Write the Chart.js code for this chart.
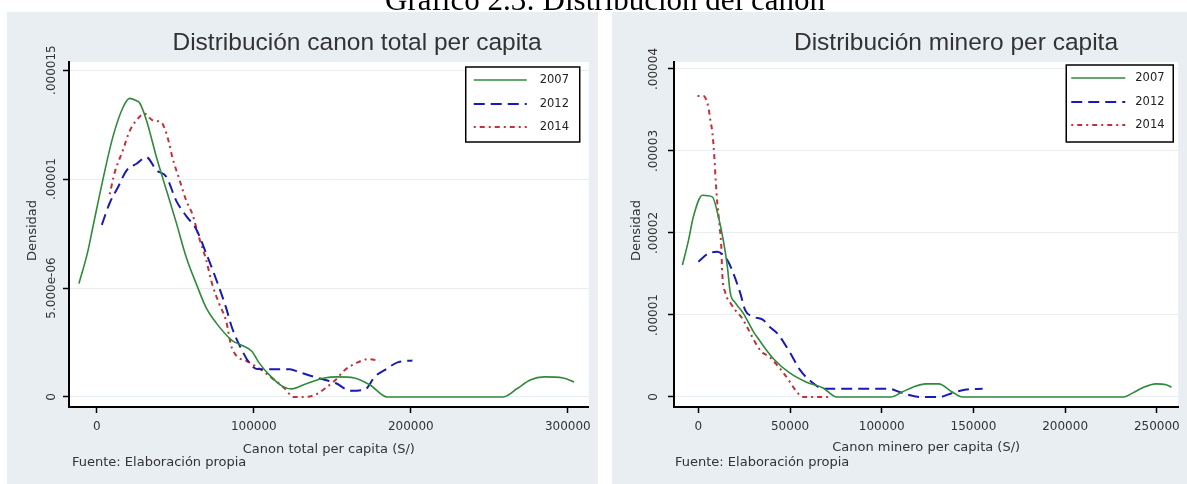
<!DOCTYPE html>
<html><head><meta charset="utf-8">
<script src="https://cdn.jsdelivr.net/npm/chart.js@4.4.1/dist/chart.umd.min.js"></script>
<style>
html,body{margin:0;padding:0;background:#fff;width:1187px;height:484px;overflow:hidden;position:relative;}
.panel{position:absolute;top:12px;height:472px;background:#e8eef1;}
#p1{left:7px;width:591px;}
#p2{left:612px;width:575px;}
canvas{display:block;}
#caption{position:absolute;top:-16px;left:605px;transform:translateX(-50%);font:31px 'Liberation Serif',serif;line-height:31px;white-space:nowrap;color:#000;z-index:5;}
</style></head><body>
<div class="panel" id="p1"><canvas id="c1" width="591" height="472"></canvas></div>
<div class="panel" id="p2"><canvas id="c2" width="575" height="472"></canvas></div>
<div id="caption">Gráfico 2.3: Distribución del canon</div>
<script>
// ---------- data (densities in units of 1e-6) ----------
const seriesLabels = ['2007', '2012', '2014'];

const totalX2007 = [-11400, -6000, -2500, 3800, 10100, 16500, 20900, 25000, 27200, 31600, 38000, 44300, 50600, 57000, 63300, 69600, 76000, 86000, 93000, 98700, 103000, 110000, 118000, 124000, 133000, 145000, 153000, 164000, 174000, 185000, 259000, 268000, 276000, 285000, 297000, 304000];
const totalD2007 = [5.2, 6.6, 7.8, 9.95, 11.9, 13.26, 13.7, 13.6, 13.5, 12.7, 11.0, 9.5, 8.0, 6.4, 5.2, 4.1, 3.4, 2.6, 2.35, 2.1, 1.6, 1.0, 0.5, 0.37, 0.6, 0.87, 0.92, 0.87, 0.55, 0, 0, 0.4, 0.78, 0.92, 0.87, 0.69];

const totalX2012 = [3200, 8200, 13300, 19000, 25300, 31600, 38000, 44300, 50600, 57000, 63300, 69600, 76000, 82300, 86000, 92400, 96800, 102000, 112000, 123000, 128500, 138000, 145500, 152000, 162000, 171000, 177000, 183500, 192000, 201000];
const totalD2012 = [7.9, 8.9, 9.6, 10.4, 10.7, 11.0, 10.4, 10.1, 9.0, 8.3, 7.7, 6.6, 5.4, 4.1, 3.2, 2.15, 1.6, 1.28, 1.27, 1.27, 1.15, 0.93, 0.78, 0.64, 0.28, 0.35, 0.93, 1.24, 1.6, 1.67];

const totalX2014 = [8200, 11400, 16500, 20900, 25300, 30400, 35400, 41100, 44300, 46200, 48100, 52500, 57000, 60800, 65200, 69600, 73400, 77800, 82300, 86000, 96800, 103000, 111000, 120000, 125000, 133000, 139000, 145500, 152000, 158000, 166500, 173000, 180000];
const totalD2014 = [9.3, 10.3, 11.3, 12.2, 12.7, 13.0, 12.7, 12.6, 12.1, 11.6, 11.0, 10.0, 9.0, 8.4, 7.3, 6.3, 5.2, 4.3, 3.5, 2.25, 1.6, 1.33, 0.9, 0.37, 0, 0, 0.1, 0.4, 0.78, 1.24, 1.6, 1.74, 1.65];

const mineroX2007 = [-8700, -5400, -2700, 2200, 7600, 10900, 13600, 15800, 17400, 20100, 24500, 29900, 33000, 40800, 50000, 59000, 68000, 75500, 105000, 111000, 117000, 124000, 131000, 138500, 144000, 232000, 237000, 242000, 249500, 255000, 258000];
const mineroD2007 = [16.1, 19.1, 22.0, 24.6, 24.4, 22.0, 19.1, 15.9, 12.7, 11.5, 10.2, 8.0, 7.0, 4.7, 2.9, 1.8, 1.1, 0, 0, 0.6, 1.2, 1.6, 1.6, 0.6, 0, 0, 0.5, 1.1, 1.6, 1.5, 1.2];

const mineroX2012 = [0, 5400, 10300, 13600, 16300, 19000, 22800, 25500, 29900, 35300, 39100, 42900, 50000, 55400, 62500, 68000, 70000, 104000, 111000, 120700, 131500, 138600, 146000, 155000];
const mineroD2012 = [16.5, 17.5, 17.7, 17.3, 16.5, 15.1, 12.7, 10.6, 9.8, 9.4, 8.5, 7.8, 5.4, 3.3, 1.7, 1.0, 1.0, 1.0, 0.5, 0, 0, 0.5, 0.9, 1.0];

const mineroX2014 = [-500, 2700, 5400, 6500, 7600, 8700, 9200, 9800, 10300, 11400, 12500, 13000, 14700, 17400, 20100, 23900, 26600, 33700, 39100, 46200, 50000, 52700, 57000, 72000];
const mineroD2014 = [36.7, 36.7, 35.4, 33.8, 32.3, 29.3, 27.3, 25.2, 23.7, 21.2, 18.3, 15.1, 12.7, 11.5, 10.6, 9.6, 8.5, 5.7, 4.8, 3.0, 1.8, 0.9, 0, 0];

const totalYTicks = [0, 5, 10, 15];
const totalYTickLabels = ['0', '5.000e-06', '.00001', '.000015'];
const totalXTicks = [0, 100000, 200000, 300000];
const mineroYTicks = [0, 10, 20, 30, 40];
const mineroYTickLabels = ['0', '.00001', '.00002', '.00003', '.00004'];
const mineroXTicks = [0, 50000, 100000, 150000, 200000, 250000];

// ---------- styles ----------
const seriesColors = ['#2f8a3b', '#1a1ab4', '#c42f3a'];
const seriesDashes = [[], [11, 6], [2, 4, 5, 4]];
const seriesWidths = [1.6, 2, 2];

Chart.defaults.font.family = "'DejaVu Sans', sans-serif";
Chart.defaults.color = '#333';

function pts(xs, ys) { return xs.map((x, i) => ({x: x, y: ys[i]})); }

const decor = {
  id: 'decor',
  beforeDraw(chart, args, o) {
    const {ctx, chartArea: a} = chart;
    ctx.save();
    ctx.fillStyle = '#fff';
    ctx.fillRect(a.left, a.top, a.right - a.left, a.bottom - a.top);
    ctx.restore();
  },
  afterDraw(chart, args, o) {
    const {ctx, chartArea: a, scales} = chart;
    ctx.save();
    // panel title
    ctx.fillStyle = '#333';
    ctx.font = "24.5px 'Liberation Sans', Arial, sans-serif";
    ctx.textAlign = 'center';
    ctx.textBaseline = 'alphabetic';
    ctx.fillText(o.title, o.titleX, o.titleY);
    // y tick labels (rotated)
    ctx.font = "12px 'DejaVu Sans', sans-serif";
    o.yTicks.forEach((v, i) => {
      const y = scales.y.getPixelForValue(v);
      ctx.save();
      ctx.translate(a.left - o.yLabelOffset, y);
      ctx.rotate(-Math.PI / 2);
      ctx.textAlign = 'center';
      ctx.textBaseline = 'middle';
      ctx.fillText(o.yTickLabels[i], 0, 0);
      ctx.restore();
    });
    // y title
    ctx.font = "13px 'DejaVu Sans', sans-serif";
    ctx.save();
    ctx.translate(a.left - o.yTitleOffset, (a.top + a.bottom) / 2 - 4);
    ctx.rotate(-Math.PI / 2);
    ctx.textAlign = 'center';
    ctx.textBaseline = 'middle';
    ctx.fillText(o.yTitle, 0, 0);
    ctx.restore();
    // x title
    ctx.textAlign = 'center';
    ctx.textBaseline = 'middle';
    ctx.fillText(o.xTitle, (a.left + a.right) / 2, o.xTitleY);
    // note
    ctx.textAlign = 'left';
    ctx.fillText(o.note, a.left + o.noteDx, o.noteY);
    // legend
    const L = o.legend;
    const bx = a.right - L.right - L.width, by = a.top + L.top;
    ctx.fillStyle = '#fff';
    ctx.fillRect(bx, by, L.width, L.height);
    ctx.strokeStyle = '#000';
    ctx.lineWidth = 1.5;
    ctx.strokeRect(bx, by, L.width, L.height);
    chart.data.datasets.forEach((ds, i) => {
      const y = by + L.rows[i];
      ctx.save();
      ctx.strokeStyle = ds.borderColor;
      ctx.lineWidth = ds.borderWidth;
      ctx.setLineDash(ds.borderDash || []);
      ctx.beginPath();
      ctx.moveTo(bx + L.x0, y);
      ctx.lineTo(bx + L.x1, y);
      ctx.stroke();
      ctx.restore();
      ctx.fillStyle = '#222';
      ctx.font = "11.5px 'DejaVu Sans', sans-serif";
      ctx.textAlign = 'left';
      ctx.textBaseline = 'middle';
      ctx.fillText(ds.label, bx + L.tx, y);
    });
    ctx.restore();
  }
};

function makeChart(id, xsList, ysList, cfg) {
  const datasets = xsList.map((xs, i) => ({
    label: seriesLabels[i],
    data: pts(xs, ysList[i]),
    borderColor: seriesColors[i],
    borderDash: seriesDashes[i],
    borderWidth: seriesWidths[i],
    pointRadius: 0,
    fill: false,
    cubicInterpolationMode: 'monotone',
    showLine: true
  }));
  return new Chart(document.getElementById(id), {
    type: 'scatter',
    data: {datasets},
    plugins: [decor],
    options: {
      responsive: false,
      animation: false,
      devicePixelRatio: 1,
      layout: {padding: {left: 0, top: 50, right: cfg.padRight, bottom: 0}},
      plugins: {
        legend: {display: false},
        tooltip: {enabled: false},
        decor: cfg.decor
      },
      scales: {
        x: {
          type: 'linear',
          min: cfg.xMin, max: cfg.xMax,
          afterBuildTicks: s => { s.ticks = cfg.xTicks.map(v => ({value: v})); },
          afterFit: s => { s.height = 77; },
          ticks: {
            color: '#333', font: {size: 12}, padding: 7, maxRotation: 0, autoSkip: false,
            callback: v => String(v)
          },
          grid: {drawOnChartArea: false, drawTicks: true, tickLength: 6, tickColor: '#000', tickWidth: 1.5},
          border: {display: true, color: '#000', width: 2}
        },
        y: {
          type: 'linear',
          min: cfg.yMin, max: cfg.yMax,
          afterBuildTicks: s => { s.ticks = cfg.yTicks.map(v => ({value: v})); },
          afterFit: s => { s.width = 62; },
          ticks: {display: false},
          grid: {color: '#e7edf0', lineWidth: 1, drawTicks: true, tickLength: 6, tickColor: '#000', tickWidth: 1.5},
          border: {display: true, color: '#000', width: 2}
        }
      }
    }
  });
}

makeChart('c1', [totalX2007, totalX2012, totalX2014], [totalD2007, totalD2012, totalD2014], {
  padRight: 6,
  xMin: -17720, xMax: 313300, yMin: -0.46, yMax: 15.37,
  xTicks: totalXTicks, yTicks: totalYTicks,
  decor: {
    title: 'Distribución canon total per capita', titleX: 350, titleY: 38,
    yTicks: totalYTicks, yTickLabels: totalYTickLabels, yLabelOffset: 17,
    yTitle: 'Densidad', yTitleOffset: 36,
    xTitle: 'Canon total per capita (S/)', xTitleY: 438,
    note: 'Fuente: Elaboración propia', noteDx: 3, noteY: 451,
    legend: {right: 9, top: 5, width: 114, height: 75, rows: [13, 37, 60], x0: 8, x1: 61, tx: 74}
  }
});

makeChart('c2', [mineroX2007, mineroX2012, mineroX2014], [mineroD2007, mineroD2012, mineroD2014], {
  padRight: 7,
  xMin: -13300, xMax: 261700, yMin: -1.22, yMax: 40.85,
  xTicks: mineroXTicks, yTicks: mineroYTicks,
  decor: {
    title: 'Distribución minero per capita', titleX: 344, titleY: 38,
    yTicks: mineroYTicks, yTickLabels: mineroYTickLabels, yLabelOffset: 20,
    yTitle: 'Densidad', yTitleOffset: 37,
    xTitle: 'Canon minero per capita (S/)', xTitleY: 436,
    note: 'Fuente: Elaboración propia', noteDx: 1, noteY: 451,
    legend: {right: 5, top: 3, width: 107, height: 77, rows: [13, 37, 60], x0: 5, x1: 59, tx: 69}
  }
});
</script>
</body></html>
